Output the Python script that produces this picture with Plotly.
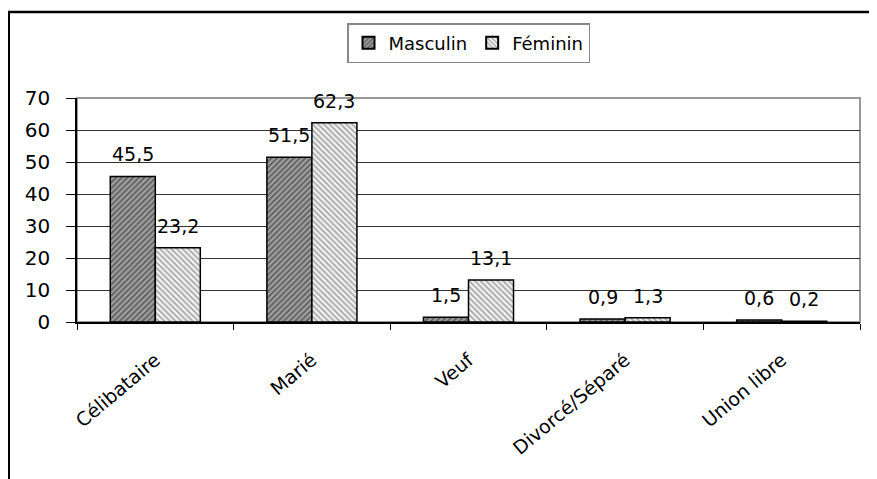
import plotly.graph_objects as go

categories = ["Célibataire", "Marié", "Veuf", "Divorcé/Séparé", "Union libre"]
masculin = [45.5, 51.5, 1.5, 0.9, 0.6]
feminin = [23.2, 62.3, 13.1, 1.3, 0.2]
y_ticks = [0, 10, 20, 30, 40, 50, 60, 70]

FONT = "DejaVu Sans, Arial, sans-serif"

def fmt(v):
    return f"{v:.1f}".replace(".", ",")

fig = go.Figure()
fig.add_trace(go.Bar(
    name="Masculin", x=categories, y=masculin,
    marker=dict(color="#9a9a9a", line=dict(color="black", width=1.5),
                pattern=dict(shape="/", fgcolor="#1a1a1a", bgcolor="#a0a0a0", size=4, solidity=0.45)),
))
fig.add_trace(go.Bar(
    name="Féminin", x=categories, y=feminin,
    marker=dict(color="#dddddd", line=dict(color="black", width=1.5),
                pattern=dict(shape="\\", fgcolor="#555555", bgcolor="#f2f2f2", size=4, solidity=0.4)),
))

# page body has an 8px margin; figure coordinates are reference pixels minus 8
OFF = 8
W, H = 877 - OFF, 479 - OFF
ml, mr, mt, mb = 77 - OFF, 17, 98 - OFF, 157
plot_w = W - ml - mr
plot_h = H - mt - mb
bargap = 0.425
half_bar = plot_w / len(categories) * (1 - bargap) / 4

annotations = []
for series, sign in ((masculin, -1), (feminin, 1)):
    for c, v in zip(categories, series):
        annotations.append(dict(
            x=c, y=v, xref="x", yref="y", text=fmt(v), showarrow=False,
            xshift=sign * half_bar, yshift=9, yanchor="bottom",
            font=dict(family=FONT, size=19, color="black"),
        ))

def px_to_paper_x(px):
    return (px - OFF - ml) / plot_w

def px_to_paper_y(py):
    return (H - mb - (py - OFF)) / plot_h

shapes = [
    dict(type="rect", xref="x domain", yref="y domain", x0=0, x1=1, y0=0, y1=1,
         line=dict(color="#999999", width=2), layer="below"),
    dict(type="line", xref="paper", yref="paper",
         x0=px_to_paper_x(8), x1=px_to_paper_x(880), y0=px_to_paper_y(12), y1=px_to_paper_y(12),
         line=dict(color="black", width=2.5)),
    dict(type="line", xref="paper", yref="paper",
         x0=px_to_paper_x(9), x1=px_to_paper_x(9), y0=px_to_paper_y(12), y1=px_to_paper_y(485),
         line=dict(color="black", width=2)),
]

fig.update_layout(
    width=W, height=H,
    margin=dict(l=ml, r=mr, t=mt, b=mb),
    paper_bgcolor="white", plot_bgcolor="white",
    barmode="group", bargap=bargap, bargroupgap=0,
    font=dict(family=FONT, size=18, color="black"),
    showlegend=True,
    legend=dict(orientation="h", x=0.5, y=px_to_paper_y(43), xanchor="center", yanchor="middle",
                bordercolor="#888888", borderwidth=1.5, bgcolor="white",
                font=dict(family=FONT, size=18, color="black"),
                itemsizing="constant", itemwidth=30, tracegroupgap=0),
    annotations=annotations,
    shapes=shapes,
)
fig.update_yaxes(
    range=[0, 70], tickvals=y_ticks, showgrid=True, gridcolor="#333333", gridwidth=1,
    showline=True, linecolor="black", linewidth=1.5, ticks="outside", ticklen=9,
    tickcolor="black", zeroline=False, ticklabelstandoff=12,
    tickfont=dict(family=FONT, size=20, color="black"),
)
fig.update_xaxes(
    showline=True, linecolor="black", linewidth=1.5, ticks="outside", ticklen=6,
    tickcolor="black", tickson="boundaries", tickangle=-40, ticklabelstandoff=18,
    tickfont=dict(family=FONT, size=19, color="black"),
)

fig.write_html("out.html")
